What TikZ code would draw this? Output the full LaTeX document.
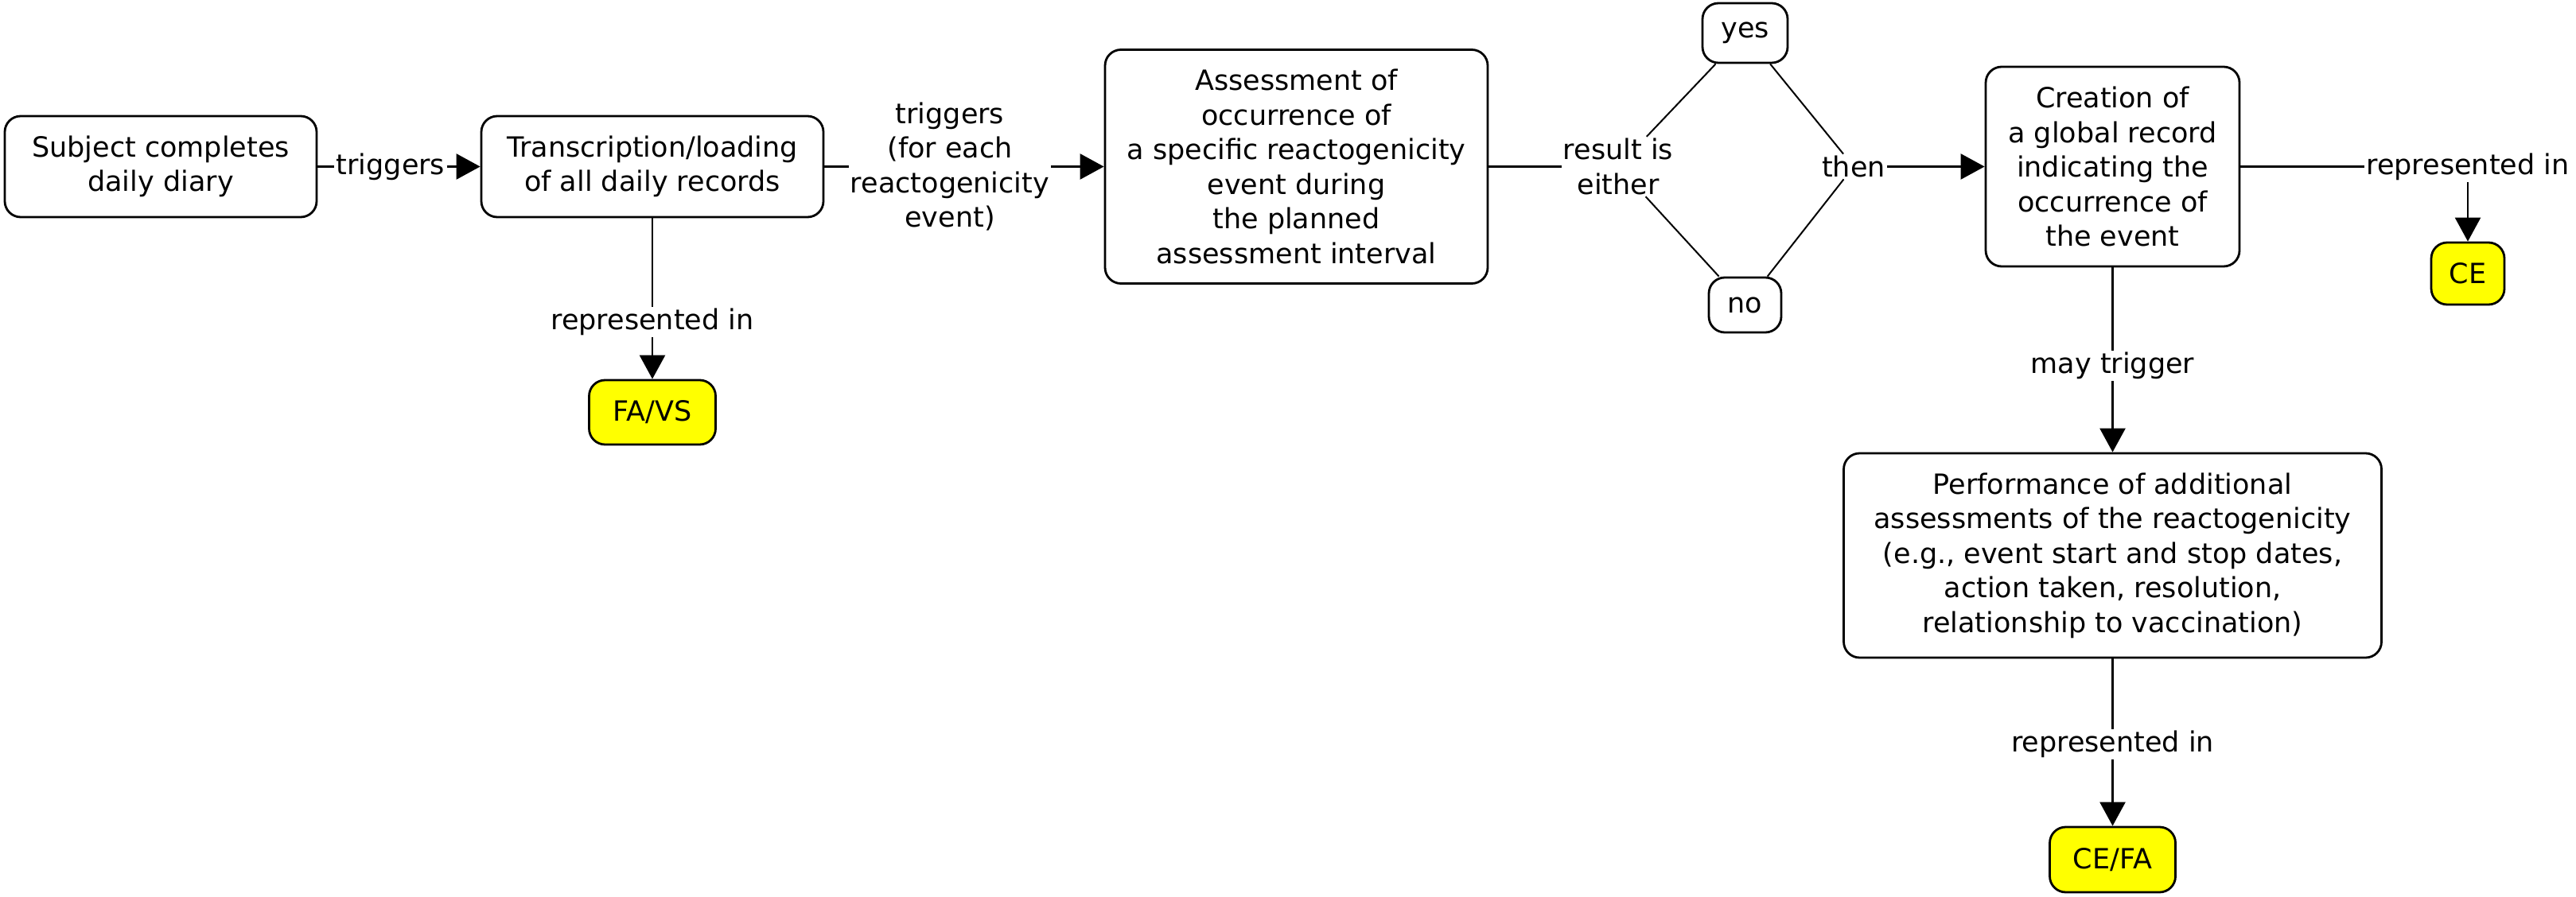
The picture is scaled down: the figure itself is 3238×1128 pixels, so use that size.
\documentclass[tikz,border=0pt]{standalone}
\usepackage{fontspec}
\setmainfont{DejaVu Sans}
\usetikzlibrary{arrows.meta}
\definecolor{hly}{RGB}{255,255,0}
\begin{document}
\begin{tikzpicture}[x=0.5pt,y=-0.5pt,
  txt/.style={font=\fontsize{17.5}{21.75}\selectfont},
  box/.style={txt,draw,line width=1.4pt,rounded corners=10pt,align=center,inner sep=3pt},
  hl/.style={box,fill=hly},
  lab/.style={txt,inner sep=1pt,align=center},
  conn/.style={line width=1.3pt},
  arr/.style={conn,-{Triangle[length=15pt,width=16pt]}},
  thinconn/.style={line width=1pt}]
\useasboundingbox (0,0) rectangle (3238,1128);
% nodes
\node[box,minimum width=196pt,minimum height=63.5pt] (n1) at (202,209.5) {Subject completes\\daily diary};
\node[box,minimum width=215pt,minimum height=63.5pt] (n2) at (820,209.5) {Transcription/loading\\of all daily records};
\node[box,minimum width=240.5pt,minimum height=147pt] (n3) at (1629.5,209.5) {Assessment of\\occurrence of\\a specific reactogenicity\\event during\\the planned\\assessment interval};
\node[box,minimum width=53.5pt,minimum height=37.5pt] (yes) at (2193.5,41.5) {yes};
\node[box,minimum width=45.5pt,minimum height=34.5pt] (no) at (2193.5,383.5) {no};
\node[box,minimum width=159.5pt,minimum height=125.5pt] (n4) at (2655.5,209.5) {Creation of\\a global record\\indicating the\\occurrence of\\the event};
\node[hl,minimum width=46pt,minimum height=39pt] (ce) at (3102,344) {CE};
\node[box,minimum width=338pt,minimum height=128.5pt] (n5) at (2655.5,698.5) {Performance of additional\\assessments of the reactogenicity\\(e.g., event start and stop dates,\\action taken, resolution,\\relationship to vaccination)};
\node[hl,minimum width=79pt,minimum height=41pt] (cefa) at (2655.5,1081) {CE/FA};
\node[hl,minimum width=79.5pt,minimum height=40.5pt] (favs) at (820,518.5) {FA/VS};
% labels
\node[lab] (l1) at (491,209.5) {triggers};
\node[lab] (l2) at (1194,209.5) {triggers\\(for each\\reactogenicity\\event)};
\node[lab] (l3) at (820,405) {represented in};
\node[lab] (l4) at (2034,209.5) {result is\\either};
\node[lab] (l5) at (2330,209.5) {then};
\node[lab] (l6) at (3102,209.5) {represented in};
\node[lab] (l7) at (2655.5,460) {may trigger};
\node[lab] (l8) at (2655.5,936) {represented in};
% connectors
\draw[conn] (n1) -- (l1);
\draw[arr] (l1) -- (n2);
\draw[conn] (n2) -- (l2);
\draw[arr] (l2) -- (n3);
\draw[conn] (n2) -- (l3);
\draw[arr] (l3) -- (favs);
\draw[conn] (n3) -- (l4);
\draw[thinconn] (l4) -- (yes);
\draw[thinconn] (l4) -- (no);
\draw[thinconn] (yes) -- (l5);
\draw[thinconn] (no) -- (l5);
\draw[arr] (l5) -- (n4);
\draw[conn] (n4) -- (l6);
\draw[arr] (l6) -- (ce);
\draw[conn] (n4) -- (l7);
\draw[arr] (l7) -- (n5);
\draw[conn] (n5) -- (l8);
\draw[arr] (l8) -- (cefa);
\end{tikzpicture}
\end{document}
